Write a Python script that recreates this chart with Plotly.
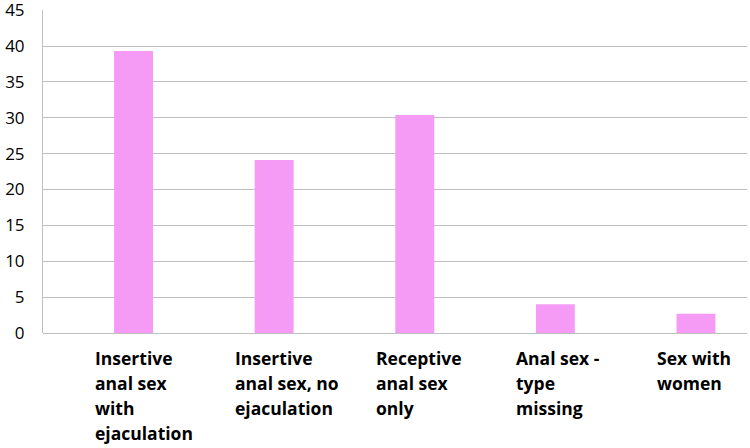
import plotly.graph_objects as go

categories = ["Insertive anal sex with ejaculation", "Insertive anal sex, no ejaculation",
              "Receptive anal sex only", "Anal sex - type missing", "Sex with women"]
label_lines = [["Insertive", "anal sex", "with", "ejaculation"],
               ["Insertive", "anal sex, no", "ejaculation"],
               ["Receptive", "anal sex", "only"],
               ["Anal sex -", "type", "missing"],
               ["Sex with", "women"]]
values = [39.3, 24.1, 30.4, 4.0, 2.7]
y_ticks = [0, 5, 10, 15, 20, 25, 30, 35, 40, 45]

fig = go.Figure()
fig.add_trace(go.Bar(x=list(range(len(categories))), y=values, width=0.277,
                     marker=dict(color="#F59BF5", line=dict(width=0)),
                     hovertext=categories))

annotations = []
for i, lines in enumerate(label_lines):
    for j, ln in enumerate(lines):
        annotations.append(dict(x=i, y=0, xref="x", yref="y", text=ln, showarrow=False,
                                xanchor="left", yanchor="top", xshift=-41, yshift=-11 - 25 * j,
                                font=dict(family="Open Sans", size=17.5, color="#000000", weight="bold")))

fig.update_layout(
    width=750, height=448,
    margin=dict(l=43, r=3, t=10, b=115, autoexpand=False),
    plot_bgcolor="white", paper_bgcolor="white",
    showlegend=False,
    annotations=annotations,
    xaxis=dict(range=[-0.644, 4.363], showticklabels=False, showgrid=False, zeroline=False,
               showline=False, fixedrange=True, automargin=False),
    yaxis=dict(range=[0, 45.02], tickvals=y_ticks, showgrid=True, gridcolor="#BFBFBF", gridwidth=1,
               zeroline=True, zerolinecolor="#BFBFBF", zerolinewidth=1,
               showline=True, linecolor="#BFBFBF", linewidth=1, automargin=False,
               ticks="", ticklabelstandoff=14, ticklabeloverflow="allow",
               tickfont=dict(family="Open Sans", size=17, color="#000000")),
)
fig.write_html("out.html", config={"displayModeBar": False},
               post_script="document.body.style.margin='0';document.body.style.overflow='hidden';")
